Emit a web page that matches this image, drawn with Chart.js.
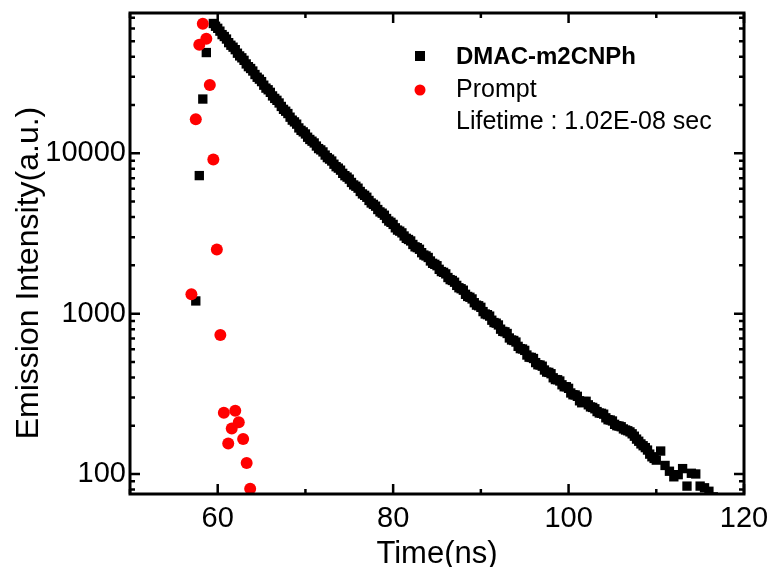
<!DOCTYPE html>
<html>
<head>
<meta charset="utf-8">
<script src="https://cdn.jsdelivr.net/npm/chart.js@4.4.1/dist/chart.umd.min.js"></script>
<style>
  body { margin: 0; background: #fff; }
  #wrap { width: 773px; height: 567px; }
</style>
</head>
<body>
<div id="wrap"><canvas id="decayChart" width="773" height="567"></canvas></div>
<script>
// DMAC-m2CNPh decay (ns, counts)
const decayTime = [57.5, 57.9, 58.3, 58.7, 59.5, 59.75,
    60, 60.25, 60.5, 60.75, 61, 61.25, 61.5, 61.75, 62, 62.25, 62.5, 62.75, 63, 63.25, 63.5, 63.75,
    64, 64.25, 64.5, 64.75, 65, 65.25, 65.5, 65.75, 66, 66.25, 66.5, 66.75, 67, 67.25, 67.5, 67.75,
    68, 68.25, 68.5, 68.75, 69, 69.25, 69.5, 69.75, 70, 70.25, 70.5, 70.75, 71, 71.25, 71.5, 71.75,
    72, 72.25, 72.5, 72.75, 73, 73.25, 73.5, 73.75, 74, 74.25, 74.5, 74.75, 75, 75.25, 75.5, 75.75,
    76, 76.25, 76.5, 76.75, 77, 77.25, 77.5, 77.75, 78, 78.25, 78.5, 78.75, 79, 79.25, 79.5, 79.75,
    80, 80.25, 80.5, 80.75, 81, 81.25, 81.5, 81.75, 82, 82.25, 82.5, 82.75, 83, 83.25, 83.5, 83.75,
    84, 84.25, 84.5, 84.75, 85, 85.25, 85.5, 85.75, 86, 86.25, 86.5, 86.75, 87, 87.25, 87.5, 87.75,
    88, 88.25, 88.5, 88.75, 89, 89.25, 89.5, 89.75, 90, 90.25, 90.5, 90.75, 91, 91.25, 91.5, 91.75,
    92, 92.25, 92.5, 92.75, 93, 93.25, 93.5, 93.75, 94, 94.25, 94.5, 94.75, 95, 95.25, 95.5, 95.75,
    96, 96.25, 96.5, 96.75, 97, 97.25, 97.5, 97.75, 98, 98.25, 98.5, 98.75, 99, 99.25, 99.5, 99.75,
    100, 100.25, 100.5, 100.75, 101, 101.25, 101.5, 101.75, 102, 102.25, 102.5, 102.75,
    103, 103.25, 103.5, 103.75, 104, 104.25, 104.5, 104.75, 105, 105.25, 105.5, 105.75,
    106, 106.25, 106.5, 106.75, 107, 107.25, 107.5, 107.75, 108, 108.25, 108.5, 108.75,
    109, 109.25, 109.5, 109.75, 110, 110.5, 111, 111.5, 112, 112.5, 113, 113.5,
    114, 114.5, 115, 115.5, 116, 116.5];
const decayCounts = [1200, 7260, 21800, 42500, 64500, 62000,
    60200, 57800, 55000, 53500, 51600, 49000, 47200, 45900, 44300, 42100, 40500, 39400, 38000, 36100, 34700, 33800,
    32600, 31000, 29800, 29000, 28000, 26600, 25500, 24900, 24000, 22800, 22000, 21400, 20600, 19600, 18800, 18300,
    17700, 16800, 16100, 15700, 15200, 14400, 13900, 13600, 13200, 12600, 12200, 11900, 11600, 11100, 10700, 10500,
    10200, 9750, 9400, 9200, 8950, 8550, 8250, 8080, 7850, 7500, 7250, 7100, 6900, 6580, 6350, 6230,
    6060, 5780, 5580, 5470, 5320, 5080, 4900, 4800, 4680, 4460, 4310, 4230, 4110, 3920, 3780, 3710,
    3600, 3430, 3320, 3270, 3190, 3050, 2950, 2900, 2840, 2700, 2610, 2580, 2520, 2400, 2320, 2290,
    2240, 2130, 2060, 2030, 1990, 1890, 1830, 1810, 1770, 1680, 1630, 1610, 1570, 1500, 1450, 1430,
    1400, 1320, 1280, 1265, 1235, 1170, 1130, 1120, 1095, 1030, 995, 985, 965, 910, 880, 872,
    850, 800, 775, 770, 752, 705, 685, 680, 665, 625, 605, 602, 590, 552, 535, 533,
    525, 495, 480, 478, 470, 445, 432, 430, 422, 398, 388, 387, 380, 360, 350, 350,
    342, 320, 312, 311, 305, 286, 278, 283, 284, 270, 262, 260,
    255, 245, 240, 239, 236, 224, 218, 217, 214, 204, 200, 199,
    197, 191, 188, 186, 183, 178, 172, 165, 160, 154, 150, 146,
    141, 133, 128, 125, 122, 139, 113, 104, 96, 99, 108, 84,
    101, 100, 84, 82, 78, 72];

// instrument response (prompt)
const promptTime = [57.0, 57.5, 57.9, 58.3, 58.7, 59.1, 59.5, 59.9, 60.3, 60.7, 61.2, 61.6, 62.0, 62.4, 62.9, 63.3, 63.7];
const promptCounts = [1320, 16300, 47600, 64300, 51900, 26700, 9160, 2510, 736, 241, 155, 192, 248, 210, 165, 117, 81];

const xMajor = [60, 80, 100, 120];
const xMinor = [50, 70, 90, 110];
const yMajor = [100, 1000, 10000];
const yMinor = [80, 90, 200, 300, 400, 500, 600, 700, 800, 900,
    2000, 3000, 4000, 5000, 6000, 7000, 8000, 9000,
    20000, 30000, 40000, 50000, 60000, 70000];

const FONT = "'Liberation Sans', Arial, sans-serif";

const framePlugin = {
    id: "frame",
    afterDatasetsDraw(chart) {
        const ctx = chart.ctx;
        const a = chart.chartArea;
        const xs = chart.scales.x;
        const ys = chart.scales.y;
        ctx.save();
        ctx.strokeStyle = "#000";
        ctx.lineWidth = 2.5;
        ctx.beginPath();
        xMajor.concat(xMinor).forEach((v) => {
            const len = xMajor.includes(v) ? 10 : 5;
            const px = xs.getPixelForValue(v);
            ctx.moveTo(px, a.bottom); ctx.lineTo(px, a.bottom - len);
            ctx.moveTo(px, a.top); ctx.lineTo(px, a.top + len);
        });
        yMajor.concat(yMinor).forEach((v) => {
            const len = yMajor.includes(v) ? 10 : 5;
            const py = ys.getPixelForValue(v);
            ctx.moveTo(a.left, py); ctx.lineTo(a.left + len, py);
            ctx.moveTo(a.right, py); ctx.lineTo(a.right - len, py);
        });
        ctx.stroke();
        ctx.lineWidth = 3;
        ctx.strokeRect(a.left, a.top, a.right - a.left, a.bottom - a.top);

        // axis titles
        ctx.fillStyle = "#000";
        ctx.font = "31px " + FONT;
        ctx.textAlign = "center";
        ctx.textBaseline = "alphabetic";
        ctx.fillText("Time(ns)", (a.left + a.right) / 2, 563);
        ctx.font = "32px " + FONT;
        ctx.translate(38, 273);
        ctx.rotate(-Math.PI / 2);
        ctx.fillText("Emission Intensity(a.u.)", 0, 0);
        ctx.restore();

        // legend
        ctx.save();
        ctx.fillStyle = "#000";
        ctx.fillRect(415, 51, 10, 10);
        ctx.fillStyle = "#ff0000";
        ctx.beginPath();
        ctx.arc(420, 90, 5.5, 0, Math.PI * 2);
        ctx.fill();
        ctx.fillStyle = "#000";
        ctx.textAlign = "left";
        ctx.textBaseline = "middle";
        ctx.font = "bold 24px " + FONT;
        ctx.fillText("DMAC-m2CNPh", 456, 57);
        ctx.font = "25px " + FONT;
        ctx.fillText("Prompt", 456, 90);
        ctx.fillText("Lifetime : 1.02E-08 sec", 456, 122);
        ctx.restore();
    },
};

const decayData = decayTime.map((t, i) => ({ x: t, y: decayCounts[i] }));
const promptData = promptTime.map((t, i) => ({ x: t, y: promptCounts[i] }));

const ctx = document.getElementById("decayChart").getContext("2d");
const decayChart = new Chart(ctx, {
    type: "scatter",
    data: {
        datasets: [
            {
                label: "Prompt",
                data: promptData,
                pointStyle: "circle",
                pointRadius: 6,
                pointBorderWidth: 0,
                backgroundColor: "#ff0000",
                borderColor: "#ff0000",
                order: 0,
            },
            {
                label: "DMAC-m2CNPh",
                data: decayData,
                pointStyle: "rect",
                pointRadius: 6.6,
                pointBorderWidth: 0,
                backgroundColor: "#000000",
                borderColor: "#000000",
                order: 1,
            },
        ],
    },
    options: {
        responsive: false,
        animation: false,
        devicePixelRatio: 1,
        layout: { padding: { top: 13, right: 29, left: 0, bottom: 0 } },
        plugins: {
            legend: { display: false },
            tooltip: { enabled: false },
        },
        scales: {
            x: {
                type: "linear",
                min: 50,
                max: 120,
                grid: { display: false, drawTicks: false },
                border: { display: false },
                afterFit: (scale) => {
                    scale.height = 73;
                    scale.paddingLeft = 0;
                    scale.paddingRight = 0;
                },
                afterBuildTicks: (scale) => { scale.ticks = xMajor.map((v) => ({ value: v })); },
                ticks: {
                    autoSkip: false,
                    maxRotation: 0,
                    padding: 8,
                    color: "#000",
                    font: { family: FONT, size: 29 },
                },
            },
            y: {
                type: "logarithmic",
                min: 75,
                max: 75000,
                grid: { display: false, drawTicks: false },
                border: { display: false },
                afterFit: (scale) => {
                    scale.width = 130;
                    scale.paddingTop = 0;
                    scale.paddingBottom = 0;
                },
                afterBuildTicks: (scale) => { scale.ticks = yMajor.map((v) => ({ value: v })); },
                ticks: {
                    autoSkip: false,
                    padding: 4,
                    color: "#000",
                    font: { family: FONT, size: 29 },
                    callback: (v) => String(v),
                },
            },
        },
    },
    plugins: [framePlugin],
});
</script>
</body>
</html>
